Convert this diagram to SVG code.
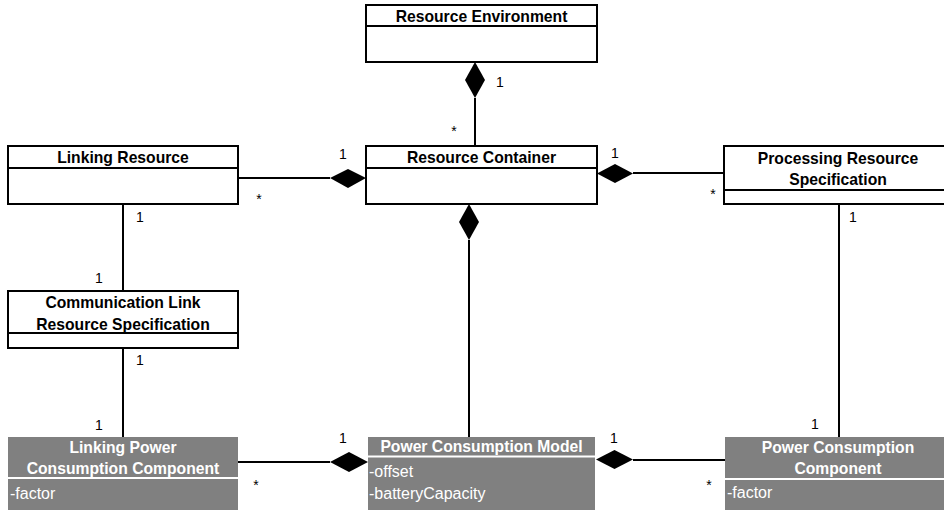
<svg xmlns="http://www.w3.org/2000/svg" width="944" height="510" viewBox="0 0 944 510">
<style>
.box{fill:#fff;stroke:#000;stroke-width:2}
.gbox{fill:#808080;stroke:none}
.div{stroke:#000;stroke-width:2}
.wdiv{stroke:#fff;stroke-width:2}
.t{font-family:"Liberation Sans",Arial,sans-serif;font-weight:bold;font-size:15.7px;text-anchor:middle;fill:#000}
.tw{font-family:"Liberation Sans",Arial,sans-serif;font-weight:bold;font-size:15.7px;text-anchor:middle;fill:#fff}
.a{font-family:"Liberation Sans",Arial,sans-serif;font-size:16px;fill:#fff}
.m{font-family:"Liberation Sans",Arial,sans-serif;font-size:14px;text-anchor:middle;fill:#000}
.ln{stroke:#000;stroke-width:2;fill:none}
.dia{fill:#000;stroke:none}
</style>
<rect width="944" height="510" fill="#fff"/>
<g id="connectors">
<polygon class="dia" points="475,62 485,80 475,98 465,80"/>
<line class="ln" x1="475" y1="98" x2="475" y2="146"/>
<text class="m" x="500" y="87">1</text>
<text class="m" x="454" y="136">*</text>
<line class="ln" x1="238" y1="178" x2="330" y2="178"/>
<polygon class="dia" points="366,178 348,169 330,178 348,188"/>
<text class="m" x="343" y="159">1</text>
<text class="m" x="259" y="204">*</text>
<polygon class="dia" points="597,173.5 615,164 633,173.5 615,183"/>
<line class="ln" x1="633" y1="173" x2="724" y2="173"/>
<text class="m" x="615" y="158">1</text>
<text class="m" x="713" y="199">*</text>
<polygon class="dia" points="469,204 479,222 469,240 459,222"/>
<line class="ln" x1="469" y1="240" x2="469" y2="437"/>
<line class="ln" x1="123" y1="204" x2="123" y2="291"/>
<text class="m" x="140" y="222">1</text>
<text class="m" x="99" y="283">1</text>
<line class="ln" x1="123" y1="348" x2="123" y2="437"/>
<text class="m" x="140" y="365">1</text>
<text class="m" x="99" y="430">1</text>
<line class="ln" x1="839" y1="204" x2="839" y2="437"/>
<text class="m" x="853" y="222">1</text>
<text class="m" x="815" y="429">1</text>
<line class="ln" x1="238" y1="462" x2="330" y2="462"/>
<polygon class="dia" points="368,462 349,452 330,462 349,472"/>
<text class="m" x="343" y="443">1</text>
<text class="m" x="256" y="490">*</text>
<polygon class="dia" points="596,459.5 614.5,450 633,459.5 614.5,469"/>
<line class="ln" x1="633" y1="460" x2="725" y2="460"/>
<text class="m" x="614" y="443">1</text>
<text class="m" x="709" y="490">*</text>
</g>
<g id="resource-environment">
<rect class="box" x="366" y="5" width="231" height="57"/>
<line class="div" x1="366" y1="26" x2="597" y2="26"/>
<text class="t" x="481.5" y="22">Resource Environment</text>
</g>
<g id="resource-container">
<rect class="box" x="366" y="146" width="231" height="58"/>
<line class="div" x1="366" y1="168" x2="597" y2="168"/>
<text class="t" x="481.5" y="163">Resource Container</text>
</g>
<g id="linking-resource">
<rect class="box" x="8" y="146" width="230" height="58"/>
<line class="div" x1="8" y1="168" x2="238" y2="168"/>
<text class="t" x="123" y="163">Linking Resource</text>
</g>
<g id="processing-resource-specification">
<rect class="box" x="724" y="146" width="230" height="58"/>
<line class="div" x1="724" y1="190" x2="954" y2="190"/>
<text class="t" x="838" y="164">Processing Resource</text>
<text class="t" x="838" y="185">Specification</text>
</g>
<g id="communication-link-resource-specification">
<rect class="box" x="8" y="291" width="230" height="57"/>
<line class="div" x1="8" y1="333" x2="238" y2="333"/>
<text class="t" x="123" y="308">Communication Link</text>
<text class="t" x="123" y="330">Resource Specification</text>
</g>
<g id="linking-power-consumption-component">
<rect class="gbox" x="8" y="437" width="230" height="75"/>
<line class="wdiv" x1="8" y1="478" x2="238" y2="478"/>
<text class="tw" x="123" y="452.5">Linking Power</text>
<text class="tw" x="123" y="474">Consumption Component</text>
<text class="a" x="10" y="499">-factor</text>
</g>
<g id="power-consumption-model">
<rect class="gbox" x="368" y="437" width="227" height="75"/>
<line class="wdiv" x1="368" y1="456.5" x2="595" y2="456.5"/>
<text class="tw" x="481.5" y="452">Power Consumption Model</text>
<text class="a" x="369" y="477">-offset</text>
<text class="a" x="369" y="499">-batteryCapacity</text>
</g>
<g id="power-consumption-component">
<rect class="gbox" x="725" y="437" width="229" height="75"/>
<line class="wdiv" x1="725" y1="479" x2="954" y2="479"/>
<text class="tw" x="838" y="453">Power Consumption</text>
<text class="tw" x="838" y="474">Component</text>
<text class="a" x="727" y="498">-factor</text>
</g>
</svg>
